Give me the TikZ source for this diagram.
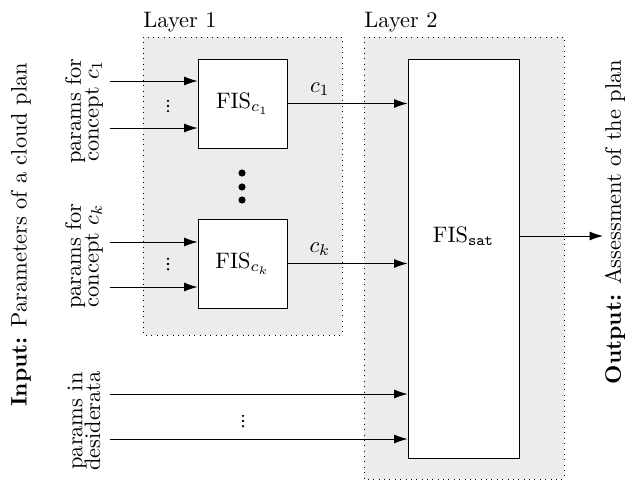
\documentclass[tikz,border=0pt]{standalone}
\usetikzlibrary{arrows.meta,positioning,calc}
\tikzset{
  >={Latex[length=6pt,width=4pt]},
  fis/.style={draw,fill=white,inner sep=0pt,minimum width=#1,minimum height=#1},
  fis/.default=1.397cm,
  layerbg/.style={draw,dotted,fill=gray!15},
  layername/.style={anchor=south west,inner xsep=0pt,inner ysep=2pt},
  inlabel/.style={rotate=90,align=center},
  flow/.style={->},
  % small vertical dots
  pics/fewdots/.style={code={
    \foreach \d in {-2.3pt,0pt,2.3pt} \fill (0,\d) circle (0.6pt);
  }},
}

\begin{document}
\begin{tikzpicture}[x=0.0157cm,y=-0.0157cm]
  \useasboundingbox (0,0) rectangle (625,480);
  % layers
  \draw[layerbg] (143,37) rectangle (342,335);
  \draw[layerbg] (364,37) rectangle (564,479);
  \node[layername] (l1) at (143,37) {Layer 1};
  \node[layername] (l2) at (364,37) {Layer 2};
  % inference systems
  \node[fis] (c1) at (242.5,103.5) {FIS$_{c_1}$};
  \node[fis] (ck) at (242.5,263.5) {FIS$_{c_k}$};
  \node[draw,fill=white,inner sep=0pt,minimum width=1.743cm,minimum height=6.264cm] (sat) at (463.5,258.5) {};
  \node (satname) at (463.5,236) {FIS$_{\mathtt{sat}}$};
  \foreach \y in {173,187,200} \fill (242,\y) circle (1.6pt);
  % inputs
  \coordinate (p1a) at (110,81);
  \coordinate (p1b) at (110,128);
  \coordinate (pka) at (110,242);
  \coordinate (pkb) at (110,287);
  \coordinate (pda) at (110,394);
  \coordinate (pdb) at (110,439);
  \draw[flow] (p1a) -- (p1a -| c1.west);
  \draw[flow] (p1b) -- (p1b -| c1.west);
  \draw[flow] (pka) -- (pka -| ck.west);
  \draw[flow] (pkb) -- (pkb -| ck.west);
  \draw[flow] (pda) -- (pda -| sat.west);
  \draw[flow] (pdb) -- (pdb -| sat.west);
  \pic at (168,106) {fewdots};
  \pic at (168,264) {fewdots};
  \pic at (243,421) {fewdots};
  \node[inlabel] (pc1) at (84,111) {params for\\[-4pt]concept $c_1$};
  \node[inlabel] (pck) at (84,256) {params for\\[-4pt]concept $c_k$};
  \node[inlabel] (pd) at (84,421) {params in\\[-4pt]desiderata};
  % concepts to layer 2
  \draw[flow] (c1.east) -- (c1.east -| sat.west) node[pos=0.27,above] (lc1) {$c_1$};
  \draw[flow] (ck.east) -- (ck.east -| sat.west) node[pos=0.27,above] (lck) {$c_k$};
  % output
  \coordinate (out) at (603,236);
  \draw[flow] (satname -| sat.east) -- (out);
  \node[inlabel] (outlbl) at (615,222) {\textbf{Output:} Assessment of the plan};
  \node[inlabel] (inlbl) at (21,235) {\textbf{Input:} Parameters of a cloud plan};
\end{tikzpicture}
\end{document}
